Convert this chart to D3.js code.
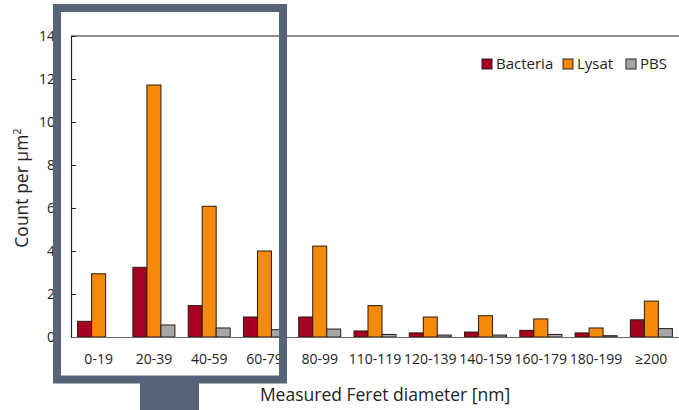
<!DOCTYPE html>
<html>
<head>
<meta charset="utf-8">
<script src="https://cdn.jsdelivr.net/npm/d3@7"></script>
<style>
  html, body { margin: 0; padding: 0; background: #fff; }
  svg { display: block; font-family: "Open Sans", "Noto Sans", sans-serif; }
</style>
</head>
<body>
<div id="chart"></div>
<script>
const categories = ["0-19","20-39","40-59","60-79","80-99","110-119","120-139","140-159","160-179","180-199","≥200"];
const seriesNames = ["Bacteria","Lysat","PBS"];
const bacteria = [0.73, 3.24, 1.46, 0.93, 0.93, 0.28, 0.19, 0.23, 0.31, 0.19, 0.80];
const lysat    = [2.94, 11.72, 6.08, 4.00, 4.23, 1.46, 0.93, 0.99, 0.84, 0.42, 1.67];
const pbs      = [0.00, 0.56, 0.42, 0.34, 0.37, 0.12, 0.09, 0.09, 0.12, 0.06, 0.39];
const yTicks = [0, 2, 4, 6, 8, 10, 12, 14];
const colors = ["#A50021", "#F5890A", "#A6A6A6"];

(function () {
const W = 679, H = 410;
const svg = d3.select("#chart").append("svg").attr("width", W).attr("height", H);

const mLeft = 71, mRight = 679, mTop = 36, mBottom = 337;
const x0 = d3.scaleBand().domain(categories).range([mLeft, mRight]).paddingInner(0.24).paddingOuter(0.12);
const x1 = d3.scaleBand().domain(seriesNames).range([0, x0.bandwidth()]);
const y = d3.scaleLinear().domain([0, 14]).range([mBottom, mTop]);

const data = [bacteria, lysat, pbs];

// top border line
svg.append("line").attr("x1", mLeft).attr("x2", mRight).attr("y1", mTop).attr("y2", mTop)
  .attr("stroke", "#222").attr("stroke-width", 1.2);

// bars
const g = svg.append("g");
categories.forEach((c, i) => {
  seriesNames.forEach((s, j) => {
    const v = data[j][i];
    if (v <= 0) return;
    g.append("rect")
      .attr("x", x0(c) + x1(s))
      .attr("y", y(v))
      .attr("width", x1.bandwidth())
      .attr("height", y(0) - y(v))
      .attr("fill", colors[j])
      .attr("stroke", "#2a1a10")
      .attr("stroke-width", 1);
  });
});

// y axis (inward ticks)
const yAxis = d3.axisRight(y).tickValues(yTicks).tickSize(5).tickFormat("");
const ya = svg.append("g").attr("transform", `translate(${mLeft},0)`).call(yAxis);
ya.select(".domain").attr("stroke", "#222").attr("stroke-width", 1.2);
ya.selectAll(".tick line").attr("stroke", "#222");
svg.append("g").selectAll("text").data(yTicks).join("text")
  .attr("x", 55).attr("y", d => y(d)).attr("dy", "0.35em")
  .attr("text-anchor", "end").attr("font-size", 14).attr("fill", "#222")
  .text(d => d);

// x axis baseline and labels
const xAxis = d3.axisBottom(x0).tickSize(0).tickPadding(17);
const xa = svg.append("g").attr("transform", `translate(0,${mBottom})`).call(xAxis);
xa.select(".domain").attr("stroke", "#666").attr("stroke-width", 1.2);
xa.selectAll("text").attr("font-size", 14).attr("fill", "#222").attr("font-family", "Open Sans, sans-serif");

// axis titles
svg.append("text").attr("transform", "translate(28,188) rotate(-90)")
  .attr("text-anchor", "middle").attr("font-size", 17.5).attr("fill", "#222")
  .html('Count per µm<tspan dy="-7" font-size="11">2</tspan>');
svg.append("text").attr("x", 385).attr("y", 401)
  .attr("text-anchor", "middle").attr("font-size", 17.5).attr("fill", "#222")
  .text("Measured Feret diameter [nm]");

// legend
const legendX = [482, 563, 626];
const lg = svg.append("g");
seriesNames.forEach((s, j) => {
  lg.append("rect").attr("x", legendX[j]).attr("y", 59).attr("width", 10).attr("height", 10)
    .attr("fill", colors[j]).attr("stroke", "#222").attr("stroke-width", 1);
  lg.append("text").attr("x", legendX[j] + 14).attr("y", 64).attr("dy", "0.35em")
    .attr("font-size", 15).attr("fill", "#222").text(s);
});

// highlight frame overlay
const frame = "#586379";
svg.append("rect").attr("x", 57).attr("y", 8).attr("width", 226).attr("height", 371.5)
  .attr("fill", "none").attr("stroke", frame).attr("stroke-width", 8);
svg.append("rect").attr("x", 140).attr("y", 383).attr("width", 59).attr("height", 27)
  .attr("fill", frame);
})();
</script>
</body>
</html>
